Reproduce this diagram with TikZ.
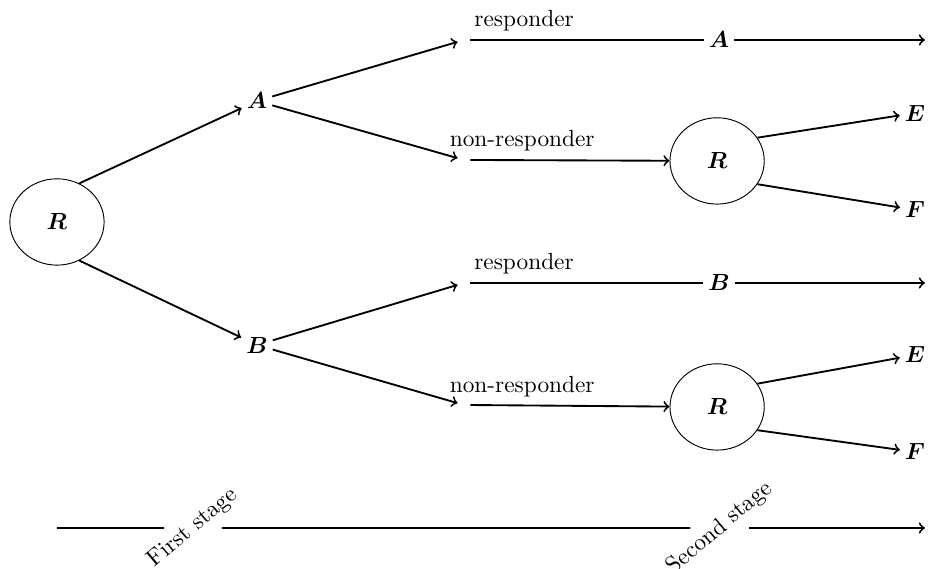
\documentclass[tikz,border=0pt]{standalone}
\usepackage{amsmath,amssymb}
\usetikzlibrary{shapes.geometric,positioning}
\tikzset{
  >=to, every edge/.style={draw, thick, ->},
  rand/.style={ellipse, draw, thin, minimum width=1.42cm, minimum height=1.3cm},
  trt/.style={inner sep=2pt},
  split/.style={inner sep=0pt, minimum width=1.8mm, minimum height=1mm},
  stage/.style={rotate=40}
  }

\begin{document}
\begin{tikzpicture}
    \useasboundingbox (0,0) rectangle (13.976,8.569);

    % first randomisation
    \node [rand] at (0.858,5.226) (r0) {$\boldsymbol{R}$};
    \node [trt] at (3.870,7.048) (a1) {$\boldsymbol{A}$};
    \node [trt] at (3.870,3.373) (b1) {$\boldsymbol{B}$};

    % response split after A
    \node [split] at (6.988,7.967) (resp1) {};
    \node [split] at (6.988,6.160) (nonresp1) {};
    \node [trt] at (10.83,7.967) (a2) {$\boldsymbol{A}$};
    \coordinate (enda) at (13.93,7.967);
    \node [rand] at (10.80,6.145) (r1) {$\boldsymbol{R}$};
    \node [trt] at (13.78,6.867) (e1) {$\boldsymbol{E}$};
    \node [trt] at (13.78,5.407) (f1) {$\boldsymbol{F}$};

    % response split after B
    \node [split] at (6.988,4.307) (resp2) {};
    \node [split] at (6.988,2.470) (nonresp2) {};
    \node [trt] at (10.83,4.307) (b2) {$\boldsymbol{B}$};
    \coordinate (endb) at (13.93,4.307);
    \node [rand] at (10.80,2.440) (r2) {$\boldsymbol{R}$};
    \node [trt] at (13.78,3.223) (e2) {$\boldsymbol{E}$};
    \node [trt] at (13.78,1.762) (f2) {$\boldsymbol{F}$};

    \draw (r0.60) edge (a1);
    \draw (r0.-60) edge (b1);

    \draw (a1) edge (resp1);
    \draw (a1) edge (nonresp1);
    \draw [thick] (resp1) -- node[above, pos=0.23]{responder} (a2);
    \draw (a2) edge (enda);
    \draw (nonresp1) edge node[above, pos=0.26]{non-responder} (r1);
    \draw (r1.30) edge (e1);
    \draw (r1.-30) edge (f1);

    \draw (b1) edge (resp2);
    \draw (b1) edge (nonresp2);
    \draw [thick] (resp2) -- node[above, pos=0.23]{responder} (b2);
    \draw (b2) edge (endb);
    \draw (nonresp2) edge node[above, pos=0.26]{non-responder} (r2);
    \draw (r2.30) edge (e2);
    \draw (r2.-30) edge (f2);

    % stages along the bottom
    \coordinate (s0) at (0.858,0.617);
    \node [stage] at (2.907,0.617) (first) {First stage};
    \node [stage] at (10.84,0.617) (second) {Second stage};
    \coordinate (s1) at (13.93,0.617);
    \draw [thick] (s0) -- (first);
    \draw [thick] (first) -- (second);
    \draw (second) edge (s1);
\end{tikzpicture}
\end{document}
